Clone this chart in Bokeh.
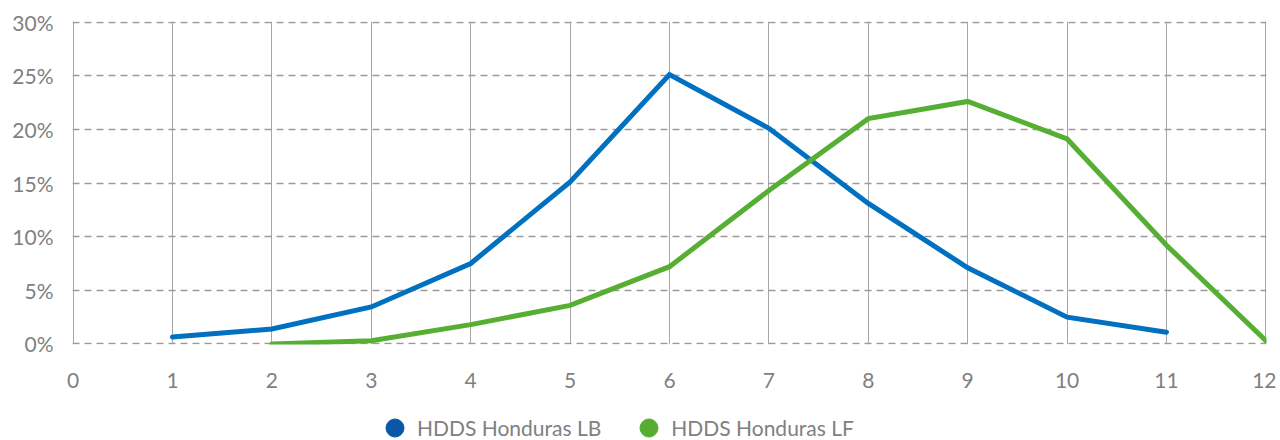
from bokeh.plotting import figure
from bokeh.layouts import column
from bokeh.models import FixedTicker, PrintfTickFormatter, Legend, LegendItem, ColumnDataSource, Range1d
from bokeh.embed import file_html
from bokeh.resources import INLINE

x_lb = [1, 2, 3, 4, 5, 6, 7, 8, 9, 10, 11]
lb = [0.65, 1.4, 3.45, 7.5, 15.1, 25.1, 20.1, 13.1, 7.1, 2.5, 1.1]
x_lf = [2, 3, 4, 5, 6, 7, 8, 9, 10, 11, 12]
lf = [0.0, 0.3, 1.8, 3.6, 7.2, 14.3, 21.0, 22.6, 19.1, 9.2, 0.3]
x_ticks = list(range(0, 13))
y_ticks = [0, 5, 10, 15, 20, 25, 30]
names = ["HDDS Honduras LB", "HDDS Honduras LF"]

BLUE_LINE = "#0070c0"
GREEN_LINE = "#56ae32"
BLUE_DOT = "#0b56a6"
GREEN_DOT = "#56ad31"
FONT = "Lato"

p = figure(width=1276, height=396, output_backend="svg", toolbar_location=None,
           x_range=Range1d(-0.006, 12.006), y_range=Range1d(-0.05, 30.05),
           min_border_left=72, min_border_right=10, min_border_top=21, min_border_bottom=52)
p.outline_line_color = None
p.background_fill_color = "white"

p.xaxis.ticker = FixedTicker(ticks=x_ticks)
p.yaxis.ticker = FixedTicker(ticks=y_ticks)
p.yaxis.formatter = PrintfTickFormatter(format="%d%%")
for ax in (p.xaxis, p.yaxis):
    ax.axis_line_color = None
    ax.major_tick_line_color = None
    ax.minor_tick_line_color = None
    ax.major_label_text_font = FONT
    ax.major_label_text_font_size = "21px"
    ax.major_label_text_color = "#7f7f7f"
p.xaxis.major_label_standoff = 22
p.yaxis.major_label_standoff = 13

p.xgrid.grid_line_color = "#a6a6a6"
p.xgrid.grid_line_width = 1
p.ygrid.grid_line_color = "#9a9a9a"
p.ygrid.grid_line_dash = "7 5"
p.ygrid.grid_line_width = 1.3

p.line(x_lb, lb, line_color=BLUE_LINE, line_width=5, line_join="miter", line_cap="round")
p.line(x_lf, lf, line_color=GREEN_LINE, line_width=5, line_join="miter", line_cap="round")

# legend strip
lg = figure(width=1276, height=43, output_backend="svg", toolbar_location=None,
            x_range=Range1d(0, 1), y_range=Range1d(0, 1),
            min_border_left=0, min_border_right=0, min_border_top=0, min_border_bottom=0)
lg.axis.visible = False
lg.grid.visible = False
lg.outline_line_color = None
nan = float("nan")
dummy = ColumnDataSource(data=dict(x=[nan], y=[nan]))
r1 = lg.scatter("x", "y", source=dummy, size=18, fill_color=BLUE_DOT, line_color=BLUE_DOT)
r2 = lg.scatter("x", "y", source=dummy, size=18, fill_color=GREEN_DOT, line_color=GREEN_DOT)
legend = Legend(items=[LegendItem(label=names[0], renderers=[r1], index=0),
                       LegendItem(label=names[1], renderers=[r2], index=0)],
                orientation="horizontal", location=(300, -11),
                glyph_width=45, glyph_height=45, label_standoff=0, spacing=25,
                padding=0, margin=0, border_line_color=None, background_fill_alpha=0,
                label_text_font=FONT, label_text_font_size="21px", label_text_color="#808080")
lg.add_layout(legend)

layout = column(p, lg, spacing=0)
open("out.html", "w").write(file_html(layout, INLINE))
